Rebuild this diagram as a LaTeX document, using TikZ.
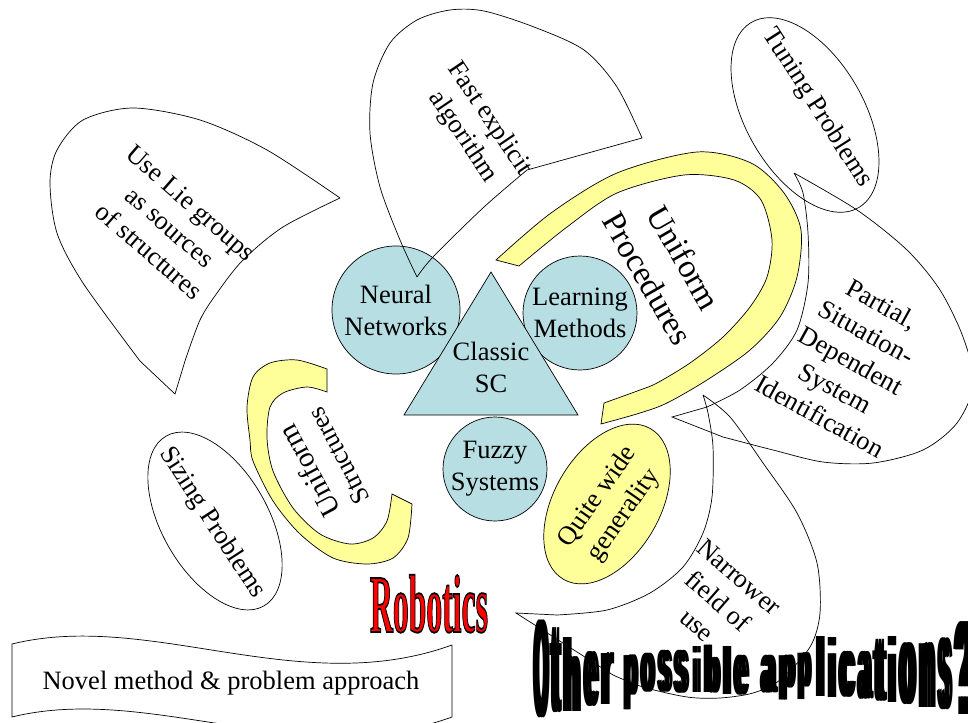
\documentclass[tikz,border=0pt]{standalone}
\usepackage{fontspec}
\setmainfont{Liberation Serif}
\newfontfamily\wordartfont{Liberation Sans}
\usepackage{graphicx}
\usetikzlibrary{shapes.geometric}
\definecolor{scblue}{RGB}{183,223,227}
\definecolor{bandyellow}{RGB}{255,255,153}
\newcommand{\outlined}[1]{\special{pdf:literal direct 0 0 0 RG 0.6 w 2 Tr}#1\special{pdf:literal direct 0 Tr}}
\newcommand{\heavy}[1]{\rlap{#1}\kern0.1em\rlap{#1}\kern0.1em#1}

\begin{document}
\begin{tikzpicture}
    [
      x=1pt, y=-1pt,
      every node/.style = {align=center, inner sep=0pt, font=\fontsize{26.5}{32}\selectfont},
      outline/.style = {draw, line width=0.7pt},
      disc/.style = {circle, outline, fill=scblue, minimum size=#1},
      oval/.style = {ellipse, outline, inner sep=0pt},
      band/.style = {outline, fill=bandyellow},
      bubble/.style = {outline}
    ]
    \useasboundingbox (0,0) rectangle (968,722);

    % yellow bands
    \draw[band] plot[smooth] coordinates {(496,260) (551,213) (617,173) (697,152) (751,163) (784,193) (801,230) (797,277) (780,317) (750,350) (707,380) (667,403) (640,413) (601,424)}
      -- plot[smooth] coordinates {(604,403) (640,390) (657,383) (690,363) (723,337) (750,307) (767,277) (772,240) (761,200) (734,180) (684,175) (617,193) (567,227) (519,266)} -- cycle;
    \draw[band] plot[smooth] coordinates {(327,369) (297,360) (270,363) (253,377) (247,407) (250,440) (253,461) (273,501) (300,534) (333,558) (367,564) (393,558) (408,538) (412,504)}
      -- plot[smooth] coordinates {(392,494) (387,521) (373,538) (350,544) (320,534) (293,508) (273,471) (267,438) (270,407) (283,393) (307,387) (327,392)} -- cycle;

    % soft computing core
    \node[disc=128pt] (neural) at (396,310) {Neural\\Networks};
    \node[disc=114pt] (learning) at (580,313) {Learning\\Methods};
    \node[disc=104pt] (fuzzy) at (495,469) {Fuzzy\\Systems};
    \coordinate (apex) at (491,272);
    \coordinate (baseL) at (404,415);
    \coordinate (baseR) at (578,415);
    \draw[outline, fill=scblue] (apex) -- (baseR) -- (baseL) -- cycle;
    \node (classic) at (491,367) {Classic\\SC};

    \node[oval, fill=bandyellow, minimum width=174pt, minimum height=106pt, rotate=60] (generality) at (607,504) {};
    \node[rotate=55] (generalitytext) at (611,506) {Quite wide\\generality};

    \node[rotate=-60, font=\fontsize{33}{42}\selectfont] (proctext) at (666,268) {Uniform\\Procedures};
    \node[rotate=118] (structtext) at (323,464) {{\fontsize{29}{32}\selectfont Uniform}\\{\fontsize{26}{32}\selectfont Structures}};

    % ovals
    \node[oval, minimum width=214pt, minimum height=118pt, rotate=-60] (tuning) at (805,115) {};
    \node[rotate=-57.5] (tuningtext) at (817,108) {Tuning Problems};
    \node[oval, minimum width=196pt, minimum height=106pt, rotate=-60] (sizing) at (215,521) {};
    \node[rotate=-57] (sizingtext) at (212,523) {Sizing Problems};

    % callouts
    \draw[bubble] plot[smooth] coordinates {(340,198) (267,150) (200,120) (133,108) (83,120) (57,150) (50,183) (57,233) (83,283) (140,361)}
      -- (175,394) -- plot[smooth] coordinates {(185,361) (200,320) (217,293) (243,260) (283,227) (340,198)};
    \node[rotate=-41] (lietext) at (170,227) {Use Lie groups\\as sources\\of structures};

    \draw[bubble] plot[smooth] coordinates {(417,277) (400,240) (380,187) (370,133) (373,83) (390,43) (417,20) (450,10) (484,11) (534,27) (584,50) (617,87) (642,138)}
      -- (527,170) -- plot[smooth] coordinates {(527,170) (484,207) (433,257) (417,277)};
    \node[rotate=-56] (fasttext) at (476,128) {Fast explicit\\algorithm};

    \draw[bubble] plot[smooth] coordinates {(794,173) (857,210) (907,250) (940,290) (963,337) (974,383) (957,423) (923,450) (873,463) (823,462) (773,450) (723,437)}
      -- (672,417) -- plot[smooth] coordinates {(707,407) (740,390) (773,363) (797,330) (808,283) (808,233) (803,193) (794,173)};
    \node[rotate=-29] (partialtext) at (851,360) {Partial,\\Situation-\\Dependent\\System\\Identification};

    \draw[bubble] plot[smooth] coordinates {(703,395) (730,417) (763,463) (797,513) (817,563) (820,613) (810,647) (780,680) (753,693) (720,698) (687,697) (643,687) (613,675)}
      -- (516,613) -- plot[smooth] coordinates {(557,615) (607,610) (650,593) (683,567) (703,533) (712,497) (713,447) (708,413) (703,395)};
    \node[rotate=-41] (narrowtext) at (718,601) {Narrower\\field of\\use};

    % banner
    \draw[outline] (12,644) .. controls (150,610) and (300,700) .. (452,645) -- (452,717)
      .. controls (300,772) and (150,683) .. (12,717) -- cycle;
    \node (novel) at (231,683) {Novel method \& problem approach};

    % word art
    \node[anchor=south, text=red] (robotics) at (429,633) {\resizebox*{118pt}{58pt}{\outlined{\bfseries Robotics}}};
    \foreach \ch/\xl/\xr/\yt/\yb [count=\i] in {O/533/550/620/718, t/550/562/628/713, h/562/583/638/712, e/583/600/652/707, r/600/615/653/705,
        p/623/640/655/710, o/640/657/653/692, s/657/673/650/692, s/673/690/650/693, i/692/702/647/693, b/703/722/645/693, l/722/733/647/695, e/733/750/655/695,
        a/760/778/655/693, p/778/797/655/700, p/797/813/653/700, l/815/827/637/697, i/827/838/638/698, c/838/857/652/698, a/857/873/652/700,
        t/873/887/640/702, i/887/898/637/703, o/898/918/643/705, n/918/937/643/708, s/937/953/638/710, ?/953/976/622/715}
    {
      \pgfmathsetmacro\letterw{\xr-\xl+1}
      \pgfmathsetmacro\letterh{\yb-\yt}
      \node[anchor=south] (wordart\i) at ({(\xl+\xr)/2},\yb) {\resizebox*{\letterw pt}{\letterh pt}{\wordartfont\bfseries\heavy{\ch}}};
    }
\end{tikzpicture}
\end{document}
